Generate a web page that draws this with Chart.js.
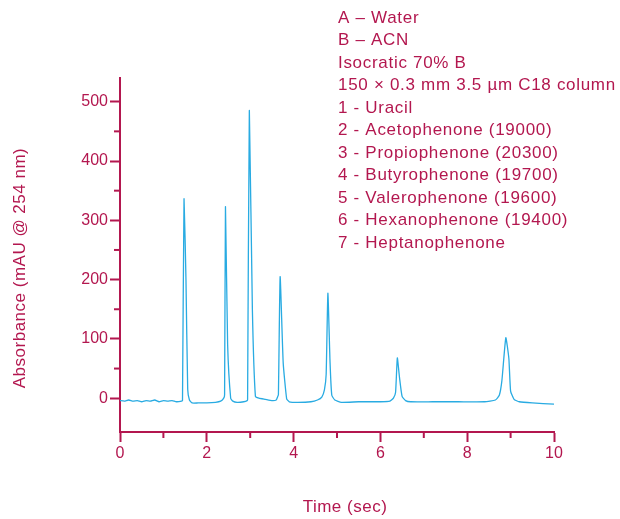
<!DOCTYPE html>
<html>
<head>
<meta charset="utf-8">
<script src="https://cdn.jsdelivr.net/npm/chart.js@4.4.0/dist/chart.umd.min.js"></script>
<style>
  html, body { margin: 0; padding: 0; background: #fff; }
  #wrap { width: 620px; height: 519px; position: relative; }
</style>
</head>
<body>
<div id="wrap"><canvas id="chrom"></canvas></div>
<script>
// retention time (sec) and absorbance (mAU)
const timeSec = [
  0, 0.1, 0.2, 0.3, 0.4, 0.5, 0.6, 0.7, 0.8, 0.9, 1.0, 1.1, 1.2, 1.3, 1.42,
  1.44, 1.475, 1.52, 1.56, 1.6, 1.66, 1.8, 2.0, 2.2, 2.32, 2.39,
  2.41, 2.43, 2.48, 2.55, 2.6, 2.7, 2.85, 2.93,
  2.94, 2.98, 3.05, 3.12, 3.2, 3.35, 3.5, 3.6, 3.63,
  3.65, 3.69, 3.76, 3.84, 3.9, 4.1, 4.4, 4.55, 4.65, 4.71,
  4.75, 4.79, 4.84, 4.88, 4.95, 5.1, 5.5, 6.0, 6.22, 6.3,
  6.35, 6.39, 6.44, 6.5, 6.58, 6.7, 7.2, 7.8, 8.4, 8.65, 8.74,
  8.8, 8.89, 8.96, 9.0, 9.08, 9.2, 9.5, 10.0
];
const absorbance = [
  -4, -5, -3, -5, -4, -6, -4, -5, -3, -6, -4, -5, -4, -6, -5,
  -4, 336, 200, 15, -3, -8, -8, -8, -7, -5, 0,
  6, 323, 90, 0, -5, -7, -6, -4,
  -2, 485, 150, 3, 0, -2, -4, -3, 2,
  6, 205, 60, -1, -6, -7, -6, -3, 2, 14,
  40, 177, 60, 5, -3, -7, -6, -6, -5, 0,
  10, 68, 35, 3, -4, -6, -6, -6, -6, -3, 5,
  30, 102, 67, 12, -2, -6, -8, -10
];
const xTicks = [0, 2, 4, 6, 8, 10];
const yTicks = [0, 100, 200, 300, 400, 500];
const xTitle = 'Time (sec)';
const yTitle = 'Absorbance (mAU @ 254 nm)';
const notes = [
  'A \u2013 Water',
  'B \u2013 ACN',
  'Isocratic 70% B',
  '150 \u00d7 0.3 mm 3.5 \u00b5m C18 column',
  '1 - Uracil',
  '2 - Acetophenone (19000)',
  '3 - Propiophenone (20300)',
  '4 - Butyrophenone (19700)',
  '5 - Valerophenone (19600)',
  '6 - Hexanophenone (19400)',
  '7 - Heptanophenone'
];

const axisColor = '#b3174f';
const traceColor = '#29abe2';
const font = "'Liberation Sans', Arial, sans-serif";

// minor ticks, axis titles and the text block
const extras = {
  id: 'extras',
  afterDraw(chart) {
    const ctx = chart.ctx;
    const xs = chart.scales.x, ys = chart.scales.y;
    ctx.save();
    ctx.strokeStyle = axisColor;
    ctx.lineWidth = 2;
    [1, 3, 5, 7, 9].forEach(v => {
      const px = xs.getPixelForValue(v);
      ctx.beginPath();
      ctx.moveTo(px, xs.top);
      ctx.lineTo(px, xs.top + 6);
      ctx.stroke();
    });
    [50, 150, 250, 350, 450].forEach(v => {
      const py = ys.getPixelForValue(v);
      ctx.beginPath();
      ctx.moveTo(ys.right, py);
      ctx.lineTo(ys.right - 6, py);
      ctx.stroke();
    });

    ctx.fillStyle = axisColor;
    ctx.textBaseline = 'middle';
    ctx.font = '17px ' + font;

    ctx.letterSpacing = '0.7px';
    ctx.textAlign = 'left';
    notes.forEach((t, i) => ctx.fillText(t, 338, 18 + i * 22.5));

    ctx.letterSpacing = '0.5px';
    ctx.textAlign = 'center';
    ctx.fillText(xTitle, 345, 507);

    ctx.translate(20, 268);
    ctx.rotate(-Math.PI / 2);
    ctx.fillText(yTitle, 0, 0);
    ctx.restore();
  }
};

const pts = timeSec.map((t, i) => ({ x: t, y: absorbance[i] }));

new Chart(document.getElementById('chrom'), {
  type: 'line',
  data: {
    datasets: [{
      data: pts,
      borderColor: traceColor,
      borderWidth: 1.3,
      pointRadius: 0,
      tension: 0.15,
      fill: false
    }]
  },
  options: {
    responsive: true,
    maintainAspectRatio: false,
    animation: false,
    layout: { padding: { top: 78, right: 66, left: 0, bottom: 0 } },
    plugins: { legend: { display: false }, tooltip: { enabled: false } },
    scales: {
      x: {
        type: 'linear',
        min: 0,
        max: 10,
        afterBuildTicks: s => { s.ticks = xTicks.map(v => ({ value: v })); },
        afterFit: s => { s.height = 87; },
        border: { color: axisColor, width: 2 },
        grid: { drawOnChartArea: false, tickLength: 10, tickColor: axisColor, tickWidth: 2 },
        ticks: { color: axisColor, font: { family: font, size: 16 }, padding: 2, maxRotation: 0 }
      },
      y: {
        min: -57,
        max: 540,
        afterBuildTicks: s => { s.ticks = yTicks.map(v => ({ value: v })); },
        afterFit: s => { s.width = 120; },
        border: { color: axisColor, width: 2 },
        grid: { drawOnChartArea: false, tickLength: 10, tickColor: axisColor, tickWidth: 2 },
        ticks: { color: axisColor, font: { family: font, size: 16 }, padding: 2 }
      }
    }
  },
  plugins: [extras]
});
</script>
</body>
</html>
